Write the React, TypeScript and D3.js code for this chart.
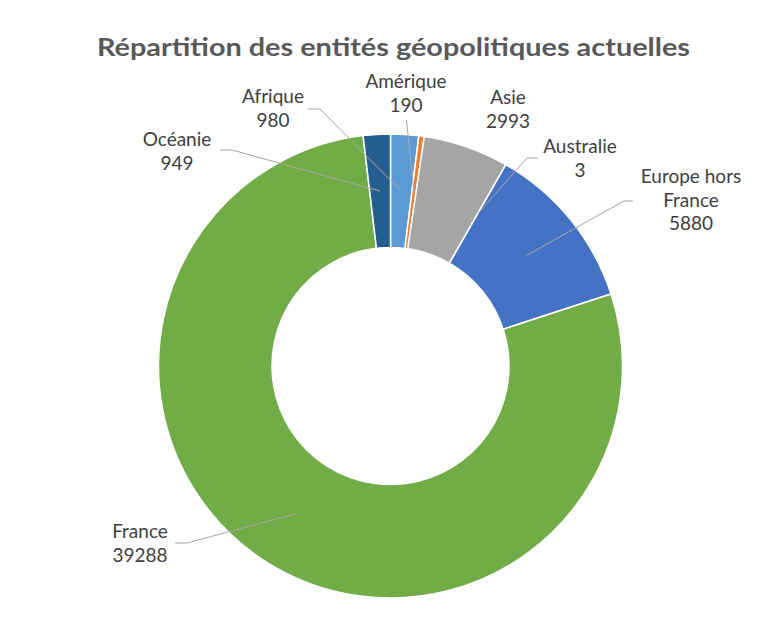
import React from "react";
import * as d3 from "d3";

const categories = ["Afrique", "Amérique", "Asie", "Australie", "Europe hors France", "France", "Océanie"];
const values = [980, 190, 2993, 3, 5880, 39288, 949];
const colors = ["#5B9BD5", "#ED7D31", "#A5A5A5", "#FFC000", "#4472C4", "#70AD47", "#255E91"];
const labelLines = [["Afrique", "980"], ["Amérique", "190"], ["Asie", "2993"], ["Australie", "3"], ["Europe hors", "France", "5880"], ["France", "39288"], ["Océanie", "949"]];
const title = "Répartition des entités géopolitiques actuelles";

// label layout: center x, first baseline y, leader start point and elbow
const labelLayout = [
  { x: 273, y: 103, lead: [[308, 109], [320, 109]] },
  { x: 406, y: 88, lead: [[406.5, 120]] },
  { x: 508, y: 104, lead: [] },
  { x: 580, y: 153, lead: [[538, 158], [527, 158]] },
  { x: 691, y: 183, lead: [[633, 201], [624, 201]] },
  { x: 140, y: 538, lead: [[175, 543], [187, 543]] },
  { x: 177, y: 146, lead: [[220, 150], [232, 150]] },
];

const W = 770, H = 621;
const cx = 390.5, cy = 366;
const outerR = 232, innerR = 118.5;
const lineH = 23.5;

export default function App() {
  const data = categories.map((c, i) => ({ name: c, value: values[i], color: colors[i], i }));
  const pie = d3.pie<any>().sort(null).value((d: any) => d.value).startAngle(0).endAngle(2 * Math.PI);
  const arcs = pie(data);
  const arc = d3.arc<any>().innerRadius(innerR).outerRadius(outerR);
  const fontFam = "Lato, 'Open Sans', sans-serif";

  return (
    <svg width={W} height={H} style={{ position: "absolute", left: 0, top: 0, background: "#fff" }}>
      <text x={97} y={56} fontFamily={fontFam} fontWeight={700} fontSize={25} fill="#595959" textLength={593} lengthAdjust="spacingAndGlyphs">
        {title}
      </text>
      <g transform={`translate(${cx},${cy})`}>
        {arcs.map((a, k) => (
          <path key={k} d={arc(a) as string} fill={a.data.color} stroke="#fff" strokeWidth={1.5} />
        ))}
      </g>
      {arcs.map((a, k) => {
        const lay = labelLayout[k];
        const lines = labelLines[k];
        const [px, py] = arc.centroid(a);
        const pts: [number, number][] = lay.lead.length
          ? [...(lay.lead as [number, number][]), [cx + px, cy + py]]
          : [];
        return (
          <g key={"l" + k}>
            {pts.length > 0 && (
              <path d={d3.line()(pts) as string} fill="none" stroke="#A6A6A6" strokeWidth={1} />
            )}
            <text fontFamily={fontFam} fontSize={19} fill="#404040" textAnchor="middle">
              {lines.map((l, j) => (
                <tspan key={j} x={lay.x} y={lay.y + j * lineH}>{l}</tspan>
              ))}
            </text>
          </g>
        );
      })}
    </svg>
  );
}
